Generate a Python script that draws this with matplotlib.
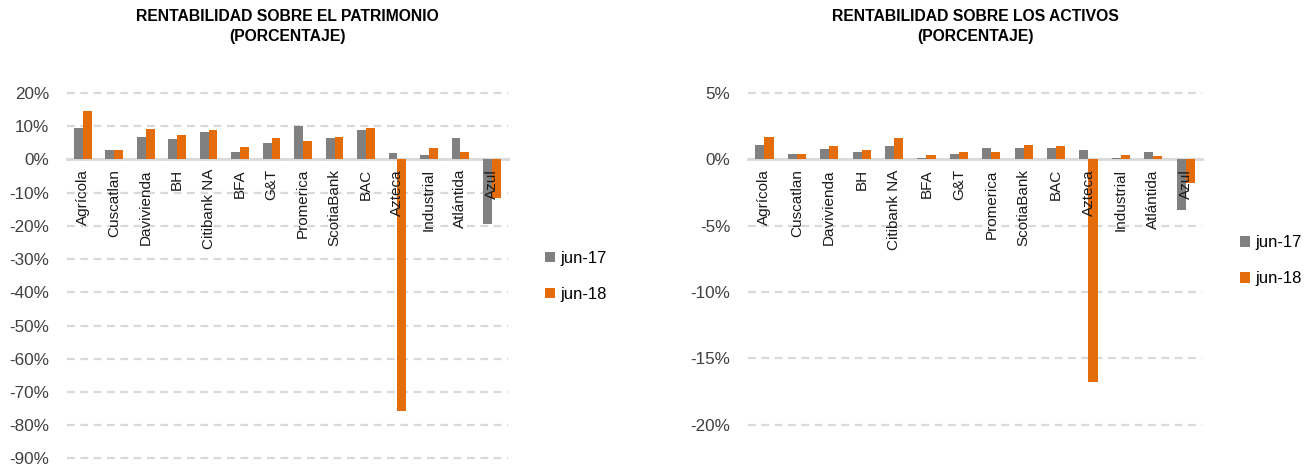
import numpy as np
import matplotlib.pyplot as plt
from matplotlib.ticker import PercentFormatter, MultipleLocator

plt.rcParams['font.family'] = ['Liberation Sans', 'DejaVu Sans']
plt.rcParams['axes.unicode_minus'] = False

bancos = ['Agrícola', 'Cuscatlan', 'Davivienda', 'BH', 'Citibank NA', 'BFA', 'G&T',
          'Promerica', 'ScotiaBank', 'BAC', 'Azteca', 'Industrial', 'Atlántida', 'Azul']
series = ['jun-17', 'jun-18']

# rentabilidad sobre el patrimonio (%)
roe_jun17 = [9.5, 2.9, 6.8, 6.0, 8.3, 2.2, 4.9, 9.9, 6.4, 8.7, 1.8, 1.4, 6.4, -19.4]
roe_jun18 = [14.5, 2.9, 9.1, 7.2, 8.7, 3.7, 6.4, 5.6, 6.8, 9.5, -75.6, 3.3, 2.2, -11.6]

# rentabilidad sobre los activos (%)
roa_jun17 = [1.1, 0.45, 0.8, 0.6, 1.0, 0.15, 0.45, 0.9, 0.9, 0.9, 0.7, 0.15, 0.55, -3.8]
roa_jun18 = [1.7, 0.45, 1.0, 0.7, 1.6, 0.35, 0.6, 0.55, 1.1, 1.0, -16.8, 0.35, 0.25, -1.8]

titulos = ['RENTABILIDAD SOBRE EL PATRIMONIO\n(PORCENTAJE)',
           'RENTABILIDAD SOBRE LOS ACTIVOS\n(PORCENTAJE)']

gris = '#808080'
naranja = '#E46C0A'
linea = '#d9d9d9'

fig = plt.figure(figsize=(13.15, 4.70), dpi=100)
ax1 = fig.add_axes([0.051, 0.021, 0.335, 0.785])
ax2 = fig.add_axes([0.569, 0.092, 0.345, 0.714])

x = np.arange(len(bancos))
w = 0.28

def panel(ax, v17, v18, lims, step, titulo, leg_y):
    ax.bar(x - w/2, np.array(v17)/100, w, color=gris, label=series[0], zorder=1)
    ax.bar(x + w/2, np.array(v18)/100, w, color=naranja, label=series[1], zorder=1)
    ax.set_xlim(-0.5, len(bancos) - 0.5)
    ax.set_ylim(*lims)
    ax.yaxis.set_major_locator(MultipleLocator(step))
    ax.yaxis.set_major_formatter(PercentFormatter(xmax=1, decimals=0))
    ax.set_axisbelow(True)
    ax.yaxis.grid(True, color=linea, linewidth=1.6, linestyle=(0, (3.5, 2.5)))
    for s in ['top', 'right', 'left']:
        ax.spines[s].set_visible(False)
    ax.spines['bottom'].set_position(('data', 0))
    ax.spines['bottom'].set_color(linea)
    ax.spines['bottom'].set_linewidth(2)
    ax.spines['bottom'].set_zorder(0.9)
    ax.set_xticks(x)
    ax.set_xticklabels(bancos, rotation=90, va='top', ha='center')
    ax.xaxis.set_zorder(3)
    ax.tick_params(axis='x', length=0, pad=7, labelsize=11, labelcolor='#1a1a1a')
    ax.tick_params(axis='y', length=0, pad=13, labelsize=12.3, labelcolor='#404040')
    ax.set_title(titulo, fontsize=11.3, fontweight='bold', pad=36, linespacing=1.4)
    ax.legend(loc='upper left', bbox_to_anchor=(1.07, leg_y), frameon=False, fontsize=12,
              handlelength=0.6, handleheight=0.6, handletextpad=0.3, labelspacing=1.25,
              borderaxespad=0)

panel(ax1, roe_jun17, roe_jun18, (-0.905, 0.205), 0.10, titulos[0], 0.585)
panel(ax2, roa_jun17, roa_jun18, (-0.2015, 0.0515), 0.05, titulos[1], 0.59)

fig.savefig('out.png', dpi=100)
